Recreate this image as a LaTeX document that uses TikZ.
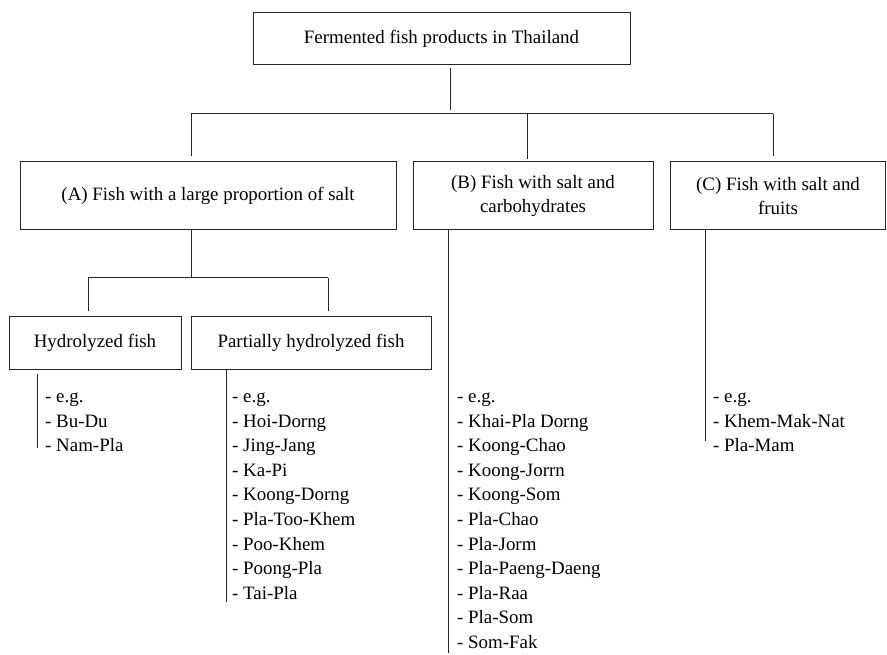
\documentclass[tikz,border=0pt]{standalone}
\usepackage{fontspec}
\setmainfont{Liberation Serif}
\usetikzlibrary{calc}
\begin{document}
\begin{tikzpicture}[x=1pt,y=-1pt,
  box/.style={draw=black!85, line width=1pt, inner sep=0pt, align=center, font=\fontsize{18.9}{24.6}\selectfont},
  item/.style={anchor=base west, inner sep=0pt, font=\fontsize{18.9}{24.6}\selectfont},
  conn/.style={draw=black!85, line width=1pt}]
\useasboundingbox[fill=white] (0,0) rectangle (887,655);

% boxes
\node[box, minimum width=377pt, minimum height=52pt] (top) at (441.5,39) {Fermented fish products in Thailand};
\node[box, minimum width=376pt, minimum height=68pt] (A) at (208,196) {(A) Fish with a large proportion of salt};
\node[box, minimum width=240pt, minimum height=68pt] (B) at (533,196) {(B) Fish with salt and\\carbohydrates};
\node[box, minimum width=215pt, minimum height=68pt] (C) at (778,196) {(C) Fish with salt and\\fruits};
\node[box, minimum width=172pt, minimum height=52pt] (H) at (95,343) {Hydrolyzed fish};
\node[box, minimum width=240pt, minimum height=52pt] (P) at (311,343) {Partially hydrolyzed fish};

% top level connectors
\coordinate (j0) at (450,110);
\coordinate (barL) at (191,114);
\coordinate (barB) at (527,114);
\coordinate (barR) at (773,114);
\draw[conn] ($(top.south -| j0)+(0,3)$) -- (j0);
\draw[conn] (barL) -- (barR);
\draw[conn] (barL) -- ($(A.north -| barL)+(0,-5)$);
\draw[conn] (barB) -- ($(B.north -| barB)+(0,-2)$);
\draw[conn] (barR) -- ($(C.north -| barR)+(0,-5)$);

% sub level connectors
\coordinate (sub) at (191,278);
\coordinate (subL) at (88,278);
\coordinate (subR) at (328,278);
\draw[conn] (A.south -| sub) -- (sub);
\draw[conn] (subL) -- (subR);
\draw[conn] (subL) -- ($(H.north -| subL)+(0,-5)$);
\draw[conn] (subR) -- ($(P.north -| subR)+(0,-5)$);

% list lines
\coordinate (hl) at (37,448);
\coordinate (pl) at (226,602);
\coordinate (bl) at (448,653);
\coordinate (cl) at (705,441);
\draw[conn] ($(H.south -| hl)+(0,4)$) -- (hl);
\draw[conn] (P.south -| pl) -- (pl);
\draw[conn] (B.south -| bl) -- (bl);
\draw[conn] (C.south -| cl) -- (cl);

% list items
\foreach \t [count=\i] in {- e.g., - Bu-Du, - Nam-Pla}
  \node[item] (h\i) at (45,{402.5+24.6*(\i-1)}) {\t};
\foreach \t [count=\i] in {- e.g., - Hoi-Dorng, - Jing-Jang, - Ka-Pi, - Koong-Dorng, - Pla-Too-Khem, - Poo-Khem, - Poong-Pla, - Tai-Pla}
  \node[item] (p\i) at (232,{402.5+24.6*(\i-1)}) {\t};
\foreach \t [count=\i] in {- e.g., - Khai-Pla Dorng, - Koong-Chao, - Koong-Jorrn, - Koong-Som, - Pla-Chao, - Pla-Jorm, - Pla-Paeng-Daeng, - Pla-Raa, - Pla-Som, - Som-Fak}
  \node[item] (b\i) at (457,{402.5+24.6*(\i-1)}) {\t};
\foreach \t [count=\i] in {- e.g., - Khem-Mak-Nat, - Pla-Mam}
  \node[item] (c\i) at (713,{402.5+24.6*(\i-1)}) {\t};
\end{tikzpicture}
\end{document}
